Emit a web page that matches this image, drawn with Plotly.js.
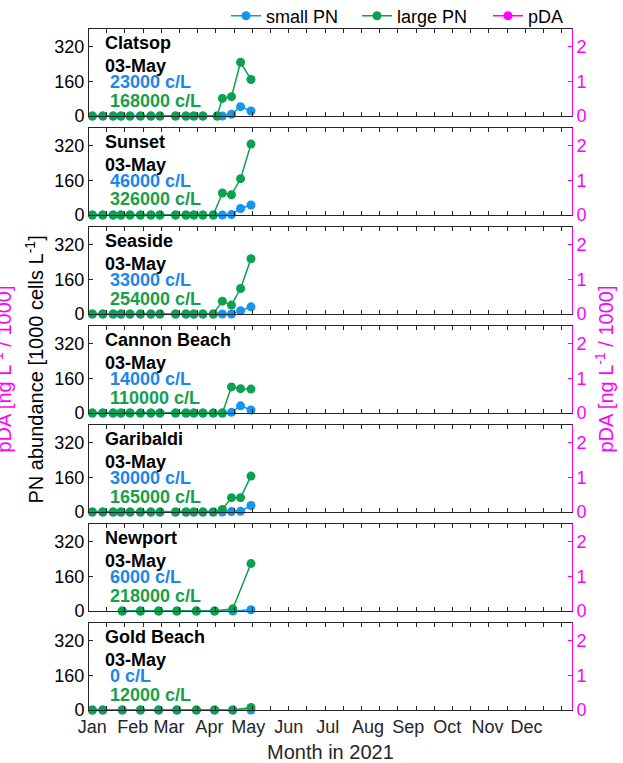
<!DOCTYPE html>
<html><head><meta charset="utf-8">
<script src="https://cdn.plot.ly/plotly-3.0.1.min.js"></script>
<style>html,body{margin:0;padding:0;background:#fff}#chart{width:623px;height:763px}</style>
</head><body><div id="chart"></div>
<script>
// ---------- data ----------
const stations = ['Clatsop','Sunset','Seaside','Cannon Beach','Garibaldi','Newport','Gold Beach'];
const latestLabel = '03-May';
const weeklyDates = ['2021-01-01','2021-01-09','2021-01-17','2021-01-23','2021-01-30','2021-02-07','2021-02-15','2021-02-22','2021-03-06','2021-03-14','2021-03-20','2021-03-27','2021-04-04','2021-04-11','2021-04-18','2021-04-25','2021-05-03'];
const clatsopDates = ['2021-01-01','2021-01-09','2021-01-17','2021-01-23','2021-01-30','2021-02-07','2021-02-15','2021-02-22','2021-03-06','2021-03-14','2021-03-20','2021-03-27','2021-04-07','2021-04-11','2021-04-18','2021-04-25','2021-05-03'];
const newportDates = ['2021-01-24','2021-02-07','2021-02-21','2021-03-07','2021-03-22','2021-04-05','2021-04-19','2021-05-03'];
const goldBeachDates = ['2021-01-01','2021-01-09','2021-01-24','2021-02-07','2021-02-21','2021-03-07','2021-03-22','2021-04-05','2021-04-19','2021-05-03'];

// PN abundance, 1000 cells per litre
const clatsopSmall   = [0,0,0,0,0,0,0,0,0,0,0,0,0,0,8,43,23];
const clatsopLarge   = [0,0,0,0,0,0,0,0,0,0,0,0,0,81,89,247,168];
const sunsetSmall    = [0,0,0,0,0,0,0,0,0,0,0,0,0,0,2,30,46];
const sunsetLarge    = [0,0,0,0,0,0,0,0,0,0,0,0,0,101,93,167,326];
const seasideSmall   = [0,0,0,0,0,0,0,0,0,0,0,0,0,0,0,15,33];
const seasideLarge   = [0,0,0,0,0,0,0,0,0,0,0,0,0,59,41,117,254];
const cannonSmall    = [0,0,0,0,0,0,0,0,0,0,0,0,0,0,3,33,14];
const cannonLarge    = [0,0,0,0,0,0,0,0,0,0,0,0,0,0,120,112,110];
const garibaldiSmall = [0,0,0,0,0,0,0,0,0,0,0,0,0,0,2,3,30];
const garibaldiLarge = [0,0,0,0,0,0,0,0,0,0,0,0,0,12,66,66,165];
const newportSmall   = [0,0,0,0,0,0,0,6];
const newportLarge   = [0,0,0,0,0,0,10,218];
const goldBeachSmall = [0,0,0,0,0,0,0,0,0,0];
const goldBeachLarge = [0,0,0,0,0,0,0,0,0,12];
// pDA (ng/L / 1000): no samples in this period
const pdaValues = [null];
const pdaDates = ['2021-01-01'];

const monthTicks = ['2021-01-01','2021-02-01','2021-03-01','2021-04-01','2021-05-01','2021-06-01','2021-07-01','2021-08-01','2021-09-01','2021-10-01','2021-11-01','2021-12-01'];
const monthLabels = ['Jan','Feb','Mar','Apr','May','Jun','Jul','Aug','Sep','Oct','Nov','Dec'];
const pnTicks = [0,160,320];
const pdaTicks = [0,1,2];

const panels = [
  {dates: clatsopDates, small: clatsopSmall, large: clatsopLarge},
  {dates: weeklyDates, small: sunsetSmall, large: sunsetLarge},
  {dates: weeklyDates, small: seasideSmall, large: seasideLarge},
  {dates: weeklyDates, small: cannonSmall, large: cannonLarge},
  {dates: weeklyDates, small: garibaldiSmall, large: garibaldiLarge},
  {dates: newportDates, small: newportSmall, large: newportLarge},
  {dates: goldBeachDates, small: goldBeachSmall, large: goldBeachLarge}
];

// ---------- styling ----------
const FONT = 'Liberation Sans, Arial, Helvetica, sans-serif';
const BLUE = '#1496f0', BLUE_T = '#1a86ee';
const GREEN = '#0ca150', GREEN_T = '#17a04c';
const MAG = '#ff00ff';
const AX = '#262626';
const W = 623, H = 763, ML = 89, MR = 51, MT = 29, MB = 53;
const PW = W - ML - MR, PH = H - MT - MB;
const PERIOD = 99, PANEL_H = PH - 6 * PERIOD; // 87
const px2x = p => (p - ML) / PW;
const px2y = p => (H - MB - p) / PH;

const traces = [];
const layout = {
  width: W, height: H,
  margin: {l: ML, r: MR, t: MT, b: MB, autoexpand: false},
  paper_bgcolor: '#fff', plot_bgcolor: '#fff',
  font: {family: FONT, size: 18, color: '#000'},
  showlegend: true,
  legend: {orientation: 'h', x: px2x(226), xanchor: 'left', y: px2y(16), yanchor: 'middle',
           entrywidth: 86, entrywidthmode: 'pixels',
           font: {family: FONT, size: 18, color: '#000'}, bgcolor: 'rgba(0,0,0,0)', borderwidth: 0,
           traceorder: 'normal'},
  annotations: []
};

panels.forEach((p, i) => {
  const n = i + 1;
  const xs = n === 1 ? '' : String(n);
  const yl = n === 1 ? '' : String(n);
  const yr = String(n + 7);
  const top = MT + PERIOD * i;
  const dom = [px2y(top + PANEL_H), px2y(top)];
  const last = p.dates.length - 1;

  traces.push({type: 'scatter', mode: 'lines+markers', name: 'small PN', x: p.dates, y: p.small,
    xaxis: 'x' + xs, yaxis: 'y' + yl, line: {color: BLUE, width: 1.5}, marker: {color: BLUE, size: 9},
    cliponaxis: false, showlegend: i === 0, legendrank: 1});
  traces.push({type: 'scatter', mode: 'lines+markers', name: 'large PN', x: p.dates, y: p.large,
    xaxis: 'x' + xs, yaxis: 'y' + yl, line: {color: GREEN, width: 1.5}, marker: {color: GREEN, size: 9},
    cliponaxis: false, showlegend: i === 0, legendrank: 2});
  traces.push({type: 'scatter', mode: 'lines+markers', name: 'pDA', x: pdaDates, y: pdaValues,
    xaxis: 'x' + xs, yaxis: 'y' + yr, line: {color: MAG, width: 1.5}, marker: {color: MAG, size: 9},
    cliponaxis: false, showlegend: i === 0, legendrank: 3});

  layout['xaxis' + xs] = {
    domain: [0, 1], anchor: 'y' + yl, type: 'date',
    range: ['2020-12-29 10:00', '2022-01-04 22:00'],
    tickmode: 'array', tickvals: monthTicks, ticktext: monthLabels,
    showticklabels: n === 7, ticks: '', tickfont: {size: 18, color: AX},
    minor: {ticks: 'inside', ticklen: 4, tickcolor: AX, tick0: '2021-01-12', dtick: 14 * 86400000, showgrid: false},
    showline: true, linecolor: AX, linewidth: 1, mirror: 'allticks',
    showgrid: false, zeroline: false, fixedrange: true
  };
  if (n !== 1) layout['xaxis' + xs].matches = 'x';

  layout['yaxis' + yl] = {
    domain: dom, anchor: 'x' + xs, range: [0, 400],
    tickmode: 'array', tickvals: pnTicks, ticks: 'inside', ticklen: 4, tickcolor: AX,
    tickfont: {size: 18, color: '#000'},
    showline: true, linecolor: AX, linewidth: 1, mirror: false,
    showgrid: false, zeroline: false, fixedrange: true
  };
  layout['yaxis' + yr] = {
    domain: dom, anchor: 'x' + xs, overlaying: 'y' + yl, side: 'right', range: [0, 2.5],
    tickmode: 'array', tickvals: pdaTicks, ticks: 'inside', ticklen: 4, tickcolor: MAG,
    tickfont: {size: 18, color: MAG},
    showline: true, linecolor: MAG, linewidth: 1,
    showgrid: false, zeroline: false, fixedrange: true
  };

  const ann = (txt, xpx, ypx, color) => layout.annotations.push({
    text: txt, xref: 'paper', yref: 'paper', x: px2x(xpx), y: px2y(ypx),
    xanchor: 'left', yanchor: 'middle', showarrow: false,
    font: {family: FONT, size: 18, color: color}
  });
  ann('<b>' + stations[i] + '</b>', 103, top + 14, '#000');
  ann('<b>' + latestLabel + '</b>', 103, top + 37, '#000');
  ann('<b>' + (p.small[last] * 1000) + ' c/L</b>', 108, top + 53, BLUE_T);
  ann('<b>' + (p.large[last] * 1000) + ' c/L</b>', 108, top + 71.5, GREEN_T);
});

// axis titles
layout.annotations.push({
  text: 'Month in 2021', xref: 'paper', yref: 'paper',
  x: 0.5, y: px2y(752), xanchor: 'center', yanchor: 'middle', showarrow: false,
  font: {family: FONT, size: 20, color: AX}
});
layout.annotations.push({
  text: 'PN abundance [1000 cells L<sup>-1</sup>]', xref: 'paper', yref: 'paper',
  x: px2x(34), y: 0.5, xanchor: 'center', yanchor: 'middle', textangle: -90, showarrow: false,
  font: {family: FONT, size: 20, color: '#000'}
});
layout.annotations.push({
  text: 'pDA [ng L<sup>-1</sup> / 1000]', xref: 'paper', yref: 'paper',
  x: px2x(604), y: 0.5, xanchor: 'center', yanchor: 'middle', textangle: -90, showarrow: false,
  font: {family: FONT, size: 20, color: MAG}
});
layout.annotations.push({
  text: 'pDA [ng L<sup>-1</sup> / 1000]', xref: 'paper', yref: 'paper',
  x: px2x(2), y: 0.5, xanchor: 'center', yanchor: 'middle', textangle: -90, showarrow: false,
  font: {family: FONT, size: 20, color: MAG}
});

Plotly.newPlot('chart', traces, layout, {displayModeBar: false, staticPlot: true});
</script>
</body></html>
